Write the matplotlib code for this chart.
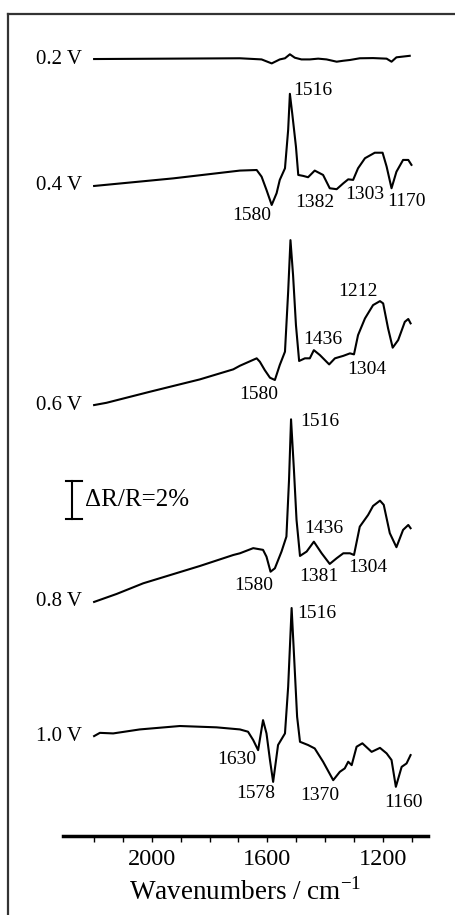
import numpy as np
import matplotlib.pyplot as plt
from matplotlib.lines import Line2D

plt.rcParams['font.family'] = ['Liberation Serif', 'DejaVu Serif']

## potentials, bottom spectrum last
potentials = ["0.2 V", "0.4 V", "0.6 V", "0.8 V", "1.0 V"]

## wavenumbers (cm-1) and dR/R (%) relative to the 2200 cm-1 start of each spectrum
wn02 = [2200, 1695, 1620, 1585, 1557, 1539, 1522, 1505, 1482, 1453, 1424,
        1395, 1360, 1337, 1314, 1280, 1234, 1187, 1170, 1153, 1107]
dr02 = [0, 0.04, -0.02, -0.23, -0.02, 0.04, 0.25, 0.07, -0.02, -0.02, 0.02,
        -0.02, -0.14, -0.09, -0.05, 0.04, 0.05, 0.02, -0.14, 0.09, 0.17]

wn04 = [2200, 1926, 1695, 1637, 1620, 1603, 1585, 1568, 1557, 1539, 1528, 1522,
        1514, 1501, 1493, 1476, 1459, 1436, 1407, 1384, 1360, 1337, 1320, 1303,
        1286, 1262, 1228, 1201, 1187, 1170, 1153, 1130, 1112, 1101]
dr04 = [0, 0.40, 0.81, 0.84, 0.49, -0.21, -1.00, -0.38, 0.32, 0.93, 2.95, 4.85,
        3.83, 2.07, 0.58, 0.53, 0.46, 0.81, 0.58, -0.12, -0.17, 0.14, 0.35, 0.32,
        0.93, 1.46, 1.75, 1.75, 1.02, -0.12, 0.75, 1.37, 1.37, 1.11]

wn06 = [2200, 2157, 2007, 1834, 1718, 1695, 1637, 1626, 1609, 1591, 1574, 1557,
        1539, 1528, 1520, 1511, 1501, 1490, 1470, 1453, 1439, 1418, 1386, 1366,
        1337, 1314, 1300, 1286, 1262, 1234, 1210, 1199, 1182, 1166, 1147, 1124,
        1112, 1104]
dr06 = [0, 0.12, 0.70, 1.35, 1.88, 2.07, 2.46, 2.28, 1.84, 1.44, 1.32, 2.11,
        2.81, 5.96, 8.68, 6.84, 4.21, 2.32, 2.46, 2.46, 2.89, 2.63, 2.14, 2.46,
        2.59, 2.72, 2.67, 3.68, 4.56, 5.26, 5.47, 5.35, 4.04, 3.02, 3.42, 4.38,
        4.53, 4.30]

wn08 = [2200, 2122, 2030, 1834, 1718, 1695, 1649, 1615, 1603, 1589, 1574, 1551,
        1534, 1525, 1518, 1508, 1499, 1487, 1464, 1439, 1412, 1384, 1360, 1337,
        1314, 1300, 1280, 1251, 1234, 1210, 1197, 1176, 1153, 1130, 1112, 1104]
dr08 = [0, 0.42, 0.98, 1.89, 2.47, 2.56, 2.83, 2.74, 2.38, 1.59, 1.77, 2.65,
        3.44, 6.42, 9.61, 6.95, 4.32, 2.42, 2.65, 3.17, 2.56, 2.00, 2.30, 2.56,
        2.56, 2.47, 3.96, 4.58, 5.05, 5.33, 5.11, 3.62, 2.88, 3.79, 4.05, 3.88]

wn10 = [2200, 2180, 2134, 2042, 1903, 1776, 1695, 1667, 1649, 1632, 1615, 1603,
        1591, 1580, 1563, 1539, 1528, 1516, 1508, 1497, 1487, 1459, 1436, 1407,
        1372, 1349, 1332, 1320, 1308, 1291, 1271, 1239, 1210, 1187, 1170, 1155,
        1135, 1118, 1104]
dr10 = [0, 0.17, 0.14, 0.35, 0.53, 0.46, 0.35, 0.23, -0.21, -0.74, 0.84, 0.14,
        -1.26, -2.41, -0.47, 0.14, 2.59, 6.74, 4.35, 1.02, -0.30, -0.47, -0.65,
        -1.35, -2.32, -1.88, -1.70, -1.35, -1.53, -0.56, -0.38, -0.83, -0.62,
        -0.91, -1.26, -2.67, -1.62, -1.44, -1.00]

wns = [wn02, wn04, wn06, wn08, wn10]
drs = [dr02, dr04, dr06, dr08, dr10]

## peak labels: (text, wavenumber, height above the spectrum start in %)
peaks02 = []
peaks04 = [("1580", 1654, -1.53), ("1382", 1435, -0.89),
           ("1303", 1262, -0.47), ("1170", 1117, -0.84)]
peaks06 = [("1580", 1629, 0.58), ("1436", 1408, 3.47),
           ("1304", 1255, 1.89), ("1212", 1287, 6.0)]
peaks08 = [("1580", 1647, 0.84), ("1436", 1404, 3.89),
           ("1381", 1422, 1.32), ("1304", 1252, 1.79)]
peaks10 = [("1630", 1706, -1.21), ("1578", 1640, -3.00),
           ("1370", 1418, -3.11), ("1160", 1127, -3.47)]
peaks = [peaks02, peaks04, peaks06, peaks08, peaks10]
## labels of the 1516 band, written to the right of the peak top
top_peaks = [None, ("1516", 1512, 5.0), None, ("1516", 1487, 9.47), ("1516", 1498, 6.47)]

## vertical offsets of each spectrum (%)
offsets = [40.89, 34.21, 22.68, 12.32, 5.26]

fig = plt.figure(figsize=(4.56, 9.15), dpi=100)
ax = fig.add_axes([0.138, 0.0863, 0.8004, 0.8984])

for i in range(len(potentials)):
	y = np.array(drs[i]) + offsets[i]
	ax.plot(wns[i], y, color='black', lw=1.5, solid_joinstyle='round')
	ax.text(2242, offsets[i], potentials[i], ha='right', va='center', fontsize=15)
	for txt, x, dy in peaks[i]:
		ax.text(x, offsets[i] + dy, txt, ha='center', va='center', fontsize=14)
	if top_peaks[i] is not None:
		txt, x, dy = top_peaks[i]
		ax.text(x, offsets[i] + dy, txt, ha='left', va='center', fontsize=14)

## scale bar 2 %
bar_x = 2277
bar_y = 16.68
ax.plot([bar_x, bar_x], [bar_y, bar_y + 2], color='black', lw=1.5)
ax.plot([bar_x + 22, bar_x - 34], [bar_y, bar_y], color='black', lw=1.5)
ax.plot([bar_x + 22, bar_x - 34], [bar_y + 2, bar_y + 2], color='black', lw=1.5)
ax.text(2232, bar_y + 1, "\u0394R/R=2%", ha='left', va='center', fontsize=18)

ax.set_xlim(2308, 1044)
ax.set_ylim(0, 43.26)
for s in ['top', 'left', 'right']:
	ax.spines[s].set_visible(False)
ax.spines['bottom'].set_linewidth(2.5)
ax.set_yticks([])
ax.set_xticks([2000, 1600, 1200])
ax.set_xticks(np.arange(1100, 2300, 100), minor=True)
ax.tick_params(axis='x', which='both', direction='out', length=4, width=1, labelsize=17.5, pad=5)
ax.set_xlabel("Wavenumbers / cm$^{\\mathregular{-1}}$", fontsize=19.5, labelpad=6)

## open frame round the figure
fig.add_artist(Line2D([8 / 456, 1], [1 - 14 / 915, 1 - 14 / 915], color='#333333', lw=1.6))
fig.add_artist(Line2D([8.5 / 456, 8.5 / 456], [0, 1 - 14 / 915], color='#333333', lw=1.6))

fig.savefig("out.png", dpi=100)
